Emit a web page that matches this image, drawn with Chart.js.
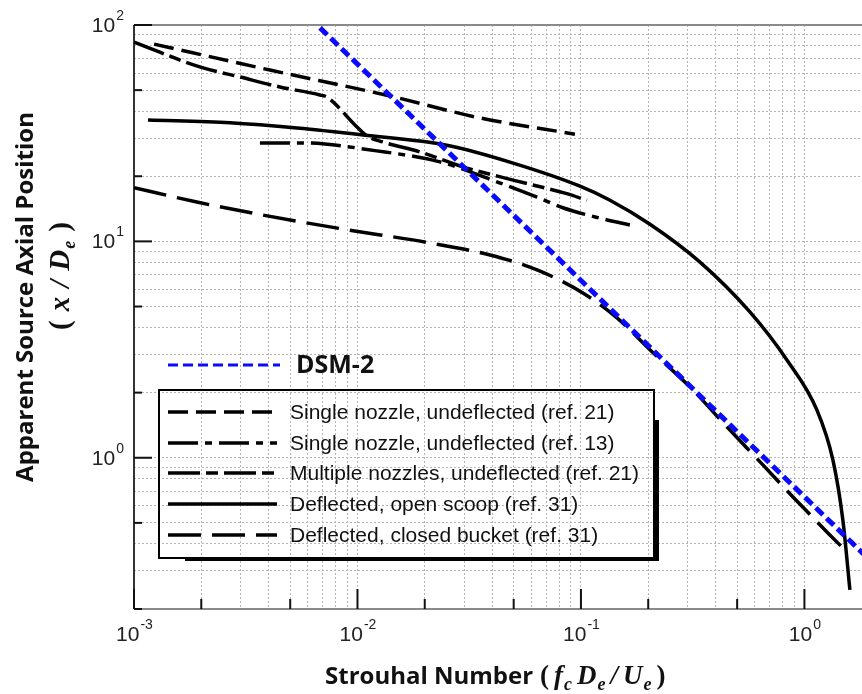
<!DOCTYPE html>
<html>
<head>
<meta charset="utf-8">
<script src="https://cdn.jsdelivr.net/npm/chart.js@4.4.1/dist/chart.umd.min.js"></script>
<style>
body { margin: 0; background: #fff; }
#wrap { width: 862px; height: 694px; position: relative; }
</style>
</head>
<body>
<div id="wrap"><canvas id="sourceChart"></canvas></div>
<script>
// Strouhal number (x) vs apparent source axial position x/De (y)
const dsmX = [0.0068, 1.85];
const dsmY = [97, 0.357];

const single21X = [0.00123, 0.00406, 0.01397, 0.0353, 0.094];
const single21Y = [81.6, 61.9, 47.0, 37.2, 31.3];

const single13X = [0.00366, 0.0057, 0.0122, 0.0234, 0.0435, 0.0636, 0.083, 0.1216, 0.1656];
const single13Y = [28.5, 28.5, 26.2, 23.3, 18.6, 16.0, 14.3, 12.8, 11.9];

const multiX = [0.001, 0.00197, 0.00298, 0.0045, 0.00679, 0.00731, 0.00995, 0.01104, 0.013, 0.01905, 0.0296, 0.0497, 0.0848, 0.1064];
const multiY = [83.4, 64.0, 57.5, 51.7, 47.5, 46.4, 33.8, 30.7, 28.8, 25.9, 22.1, 19.2, 16.7, 15.5];

const scoopX = [0.001155, 0.00269, 0.00536, 0.0106, 0.0251, 0.0497, 0.099, 0.1349, 0.2037, 0.34, 0.57, 0.835, 1.138, 1.341, 1.486, 1.598];
const scoopY = [36.4, 35.3, 33.4, 31.0, 27.8, 23.0, 18.0, 15.5, 12.0, 8.04, 4.72, 2.83, 1.66, 0.977, 0.516, 0.245];

const bucketX = [0.001, 0.00191, 0.0034, 0.00861, 0.0211, 0.0392, 0.0636, 0.102, 0.145, 0.204, 0.308, 0.45, 0.652, 0.889, 1.30, 1.486];
const bucketY = [17.7, 15.2, 13.5, 11.4, 9.84, 8.65, 7.38, 5.78, 4.43, 3.15, 2.12, 1.39, 0.927, 0.659, 0.44, 0.383];

const legendLabels = [
    'Single nozzle, undeflected (ref. 21)',
    'Single nozzle, undeflected (ref. 13)',
    'Multiple nozzles, undeflected (ref. 21)',
    'Deflected, open scoop (ref. 31)',
    'Deflected, closed bucket (ref. 31)'
];
const xTickExps = [-3, -2, -1, 0];
const yTickExps = [0, 1, 2];

const pts = (xs, ys) => xs.map((x, i) => ({ x: x, y: ys[i] }));

function logTicks(min, max) {
    const out = [];
    for (let e = -4; e <= 3; e++) {
        for (let m = 1; m <= 9; m++) {
            const v = m * Math.pow(10, e);
            if (v >= min * 0.999 && v <= max * 1.001) out.push({ value: v });
        }
    }
    return out;
}

const dashes = [[20, 8], [30, 7, 7, 7], [32, 6, 12, 6], [], [33, 11]];

function blackLine(label, xs, ys, dash) {
    return {
        label: label,
        data: pts(xs, ys),
        borderColor: '#000',
        borderWidth: 3.5,
        borderDash: dash,
        pointRadius: 0,
        fill: false,
        cubicInterpolationMode: 'monotone'
    };
}

function drawPow(ctx, exp, x, y, align) {
    ctx.fillStyle = '#222';
    ctx.textBaseline = 'middle';
    ctx.textAlign = 'left';
    ctx.font = '21px "Liberation Sans"';
    const w10 = ctx.measureText('10').width;
    ctx.font = '14px "Liberation Sans"';
    const sup = String(exp);
    const ws = ctx.measureText(sup).width;
    let x0 = align === 'right' ? x - w10 - ws : x - (w10 + ws) / 2;
    ctx.font = '21px "Liberation Sans"';
    ctx.fillText('10', x0, y);
    ctx.font = '14px "Liberation Sans"';
    ctx.fillText(sup, x0 + w10 + 1, y - 10);
}

// parts: [text, kind] with kind 'n' upright, 'i' italic, 's' italic subscript
function mathRun(ctx, parts, x, y, draw, gap, big) {
    let cx = x;
    parts.forEach((p, i) => {
        if (i > 0) cx += p[1] === 's' ? 1 : gap;
        const size = p[1] === 's' ? 18 : big;
        ctx.font = (p[1] === 'n' ? 'bold ' : 'italic bold ') + size + 'px "Liberation Serif"';
        if (draw) ctx.fillText(p[0], cx, p[1] === 's' ? y + 6 : y);
        cx += ctx.measureText(p[0]).width;
    });
    return cx - x;
}

const decorPlugin = {
    id: 'decor',
    beforeDatasetsDraw(chart) {
        const { ctx, chartArea: a, scales } = chart;
        ctx.save();
        ctx.strokeStyle = '#8a8a8a';
        ctx.lineWidth = 2;
        ctx.beginPath();
        ctx.moveTo(a.right, a.top);
        ctx.lineTo(a.left, a.top);
        ctx.moveTo(a.left, a.bottom);
        ctx.lineTo(a.right, a.bottom);
        ctx.stroke();
        ctx.strokeStyle = '#333';
        ctx.beginPath();
        ctx.moveTo(a.left, a.top);
        ctx.lineTo(a.left, a.bottom);
        ctx.stroke();
        // inward tick marks at 1, 2, 5 per decade
        ctx.strokeStyle = '#111';
        ctx.lineWidth = 2;
        scales.y.ticks.forEach(t => {
            const s = Math.round(t.value / Math.pow(10, Math.floor(Math.log10(t.value) + 1e-9)));
            if (s !== 1 && s !== 2 && s !== 5) return;
            const py = scales.y.getPixelForValue(t.value);
            ctx.beginPath();
            ctx.moveTo(a.left, py);
            ctx.lineTo(a.left + (s === 1 ? 18 : 8), py);
            ctx.stroke();
        });
        scales.x.ticks.forEach(t => {
            const s = Math.round(t.value / Math.pow(10, Math.floor(Math.log10(t.value) + 1e-9)));
            if (s !== 1 && s !== 2 && s !== 5) return;
            const px = scales.x.getPixelForValue(t.value);
            ctx.beginPath();
            ctx.moveTo(px, a.bottom);
            ctx.lineTo(px, a.bottom - (s === 1 ? 20 : 10));
            ctx.stroke();
        });
        ctx.restore();
    },
    afterDraw(chart) {
        const { ctx, scales } = chart;
        ctx.save();
        xTickExps.forEach(e => drawPow(ctx, e === 0 ? '0' : '-' + Math.abs(e), scales.x.getPixelForValue(Math.pow(10, e)), 635, 'center'));
        yTickExps.forEach(e => drawPow(ctx, String(e), 123, scales.y.getPixelForValue(Math.pow(10, e)) + 1, 'right'));

        // DSM-2 legend entry
        ctx.strokeStyle = '#0a0aff';
        ctx.lineWidth = 3;
        ctx.setLineDash([10, 5]);
        ctx.beginPath();
        ctx.moveTo(168, 365);
        ctx.lineTo(280, 365);
        ctx.stroke();
        ctx.setLineDash([]);
        ctx.fillStyle = '#111';
        ctx.font = 'bold 25px "Open Sans"';
        ctx.textAlign = 'left';
        ctx.textBaseline = 'middle';
        ctx.fillText('DSM-2', 296, 366);

        // boxed legend with drop shadow
        ctx.strokeStyle = '#000';
        ctx.lineWidth = 2;
        ctx.strokeRect(159, 390, 495, 168);
        ctx.fillStyle = '#000';
        ctx.fillRect(185, 557, 474, 4);
        ctx.fillRect(655, 420, 4, 141);
        const rows = [412, 443, 473, 504, 535];
        legendLabels.forEach((lab, i) => {
            ctx.strokeStyle = '#000';
            ctx.lineWidth = 3.5;
            ctx.setLineDash(dashes[i]);
            ctx.beginPath();
            ctx.moveTo(168, rows[i]);
            ctx.lineTo(277, rows[i]);
            ctx.stroke();
            ctx.setLineDash([]);
            ctx.fillStyle = '#111';
            ctx.font = '21px "Liberation Sans"';
            ctx.fillText(lab, 290, rows[i] + 1);
        });

        // x axis title
        ctx.fillStyle = '#111';
        ctx.textBaseline = 'alphabetic';
        ctx.font = 'bold 24px "Open Sans"';
        ctx.fillText('Strouhal Number', 325, 684);
        mathRun(ctx, [['(', 'n'], ['f', 'i'], ['c', 's'], ['D', 'i'], ['e', 's'], ['/', 'i'], ['U', 'i'], ['e', 's'], [')', 'n']], 540, 684, true, 5, 27);

        // y axis title
        ctx.save();
        ctx.translate(33, 297);
        ctx.rotate(-Math.PI / 2);
        ctx.textAlign = 'center';
        ctx.font = 'bold 24px "Open Sans"';
        ctx.fillText('Apparent Source Axial Position', 0, 0);
        ctx.restore();
        ctx.save();
        ctx.translate(69, 276);
        ctx.rotate(-Math.PI / 2);
        ctx.textAlign = 'left';
        const yParts = [['(', 'n'], ['x', 'i'], ['/', 'i'], ['D', 'i'], ['e', 's'], [')', 'n']];
        const w = mathRun(ctx, yParts, 0, 0, false, 9, 29);
        mathRun(ctx, yParts, -w / 2, 0, true, 9, 29);
        ctx.restore();
        ctx.restore();
    }
};

const ctxSource = document.getElementById('sourceChart').getContext('2d');
new Chart(ctxSource, {
    type: 'line',
    data: {
        datasets: [
            {
                label: 'DSM-2',
                data: pts(dsmX, dsmY),
                borderColor: '#0a0aff',
                borderWidth: 5,
                borderDash: [10, 5],
                pointRadius: 0,
                fill: false,
                tension: 0
            },
            blackLine(legendLabels[0], single21X, single21Y, dashes[0]),
            blackLine(legendLabels[1], single13X, single13Y, dashes[1]),
            blackLine(legendLabels[2], multiX, multiY, dashes[2]),
            blackLine(legendLabels[3], scoopX, scoopY, dashes[3]),
            blackLine(legendLabels[4], bucketX, bucketY, dashes[4])
        ]
    },
    options: {
        responsive: true,
        maintainAspectRatio: false,
        animation: false,
        layout: { padding: { left: 134, top: 25, right: 0, bottom: 85 } },
        plugins: {
            legend: { display: false },
            tooltip: { enabled: false }
        },
        scales: {
            x: {
                type: 'logarithmic',
                min: 0.001,
                max: 1.81,
                afterBuildTicks: scale => { scale.ticks = logTicks(0.001, 1.81); },
                ticks: { display: false },
                grid: { color: '#b5b5b5', lineWidth: 1, drawTicks: false },
                border: { display: false, dash: [2, 2] }
            },
            y: {
                type: 'logarithmic',
                min: 0.2,
                max: 100,
                afterBuildTicks: scale => { scale.ticks = logTicks(0.2, 100); },
                ticks: { display: false },
                grid: { color: '#b5b5b5', lineWidth: 1, drawTicks: false },
                border: { display: false, dash: [2, 2] }
            }
        }
    },
    plugins: [decorPlugin]
});
</script>
</body>
</html>
